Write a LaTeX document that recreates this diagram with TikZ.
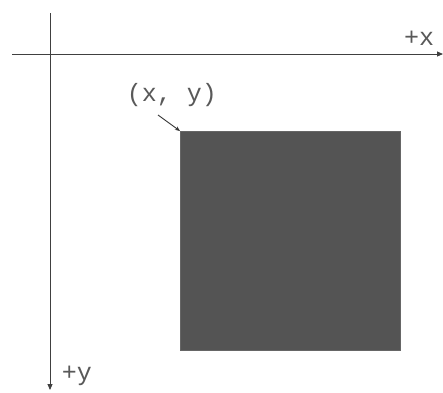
\documentclass[tikz,border=0pt]{standalone}
\usepackage{fontspec}
\setmonofont{Liberation Mono}
\usetikzlibrary{arrows.meta,positioning}

\begin{document}
\begin{tikzpicture}[
  x=1pt, y=-1pt,
  font=\fontsize{25}{27}\selectfont\ttfamily,
  axis/.style={draw=black!75, line width=0.9pt, -{Triangle[length=6pt,width=5pt]}},
  lbl/.style={text=black!65, inner sep=1pt},
  pointer/.style={draw=black!80, line width=0.9pt, -{Stealth[length=5pt,width=4pt]}},
  block/.style={draw=black!60, fill=black!67}
]
\useasboundingbox (0,0) rectangle (443,392);
\coordinate (xstart) at (12,54);
\coordinate (xend) at (443,54);
\coordinate (ystart) at (50,13);
\coordinate (yend) at (50,390);
\draw[axis] (xstart) -- (xend);
\draw[axis] (ystart) -- (yend);
\node[lbl] (xlab) at (419,38) {+x};
\node[lbl] (ylab) at (77,376) {+y};
\node[block, minimum width=220pt, minimum height=219pt, anchor=north west, inner sep=0pt] (sq) at (180,131) {};
\coordinate (corner) at (sq.north west);
\node[lbl] (pt) at (172,95) {(x,~y)};
\coordinate (tail) at (158,115);
\draw[pointer] (tail) -- (corner);
\end{tikzpicture}
\end{document}
